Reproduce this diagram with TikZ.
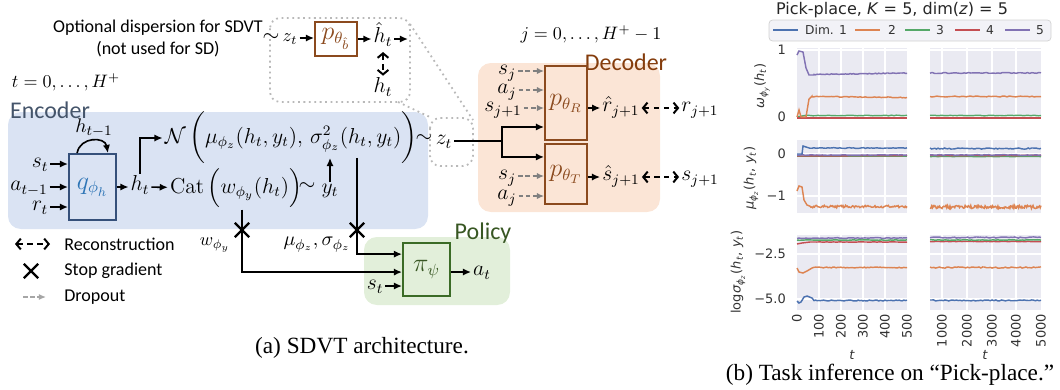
\documentclass[tikz,border=0pt]{standalone}
\usepackage[usenames,dvipsnames,svgnames,table]{xcolor}
\usepackage{fontspec}
\usepackage{amssymb}
\usepackage{amsmath}
\usepackage{tikz}
\usetikzlibrary{arrows.meta,shapes.misc}
\newfontfamily\carl{Carlito}
\newfontfamily\plotfont{DejaVu Sans}
\newfontfamily\capfont{Liberation Serif}
\definecolor{encfill}{HTML}{DAE3F3}
\definecolor{encline}{HTML}{35507A}
\definecolor{enctext}{HTML}{44546A}
\definecolor{qblue}{HTML}{2E75B6}
\definecolor{decfill}{HTML}{FBE5D6}
\definecolor{decline}{HTML}{8B4A1E}
\definecolor{dectext}{HTML}{843C0C}
\definecolor{polfill}{HTML}{E2EFDA}
\definecolor{polline}{HTML}{3B6B26}
\definecolor{poltext}{HTML}{385723}
\definecolor{axbg}{HTML}{EAEAF2}
\definecolor{cblu}{HTML}{4C72B0}
\definecolor{cora}{HTML}{DD8452}
\definecolor{cgre}{HTML}{55A868}
\definecolor{cred}{HTML}{C44E52}
\definecolor{cpur}{HTML}{8172B3}

\begin{document}
\begin{tikzpicture}[x=0.0195cm, y=-0.0195cm,
    arr/.style={-{Latex[length=4.5pt,width=4pt]}, line width=0.9pt},
    recon/.style={{Straight Barb[length=2.5pt,width=6pt]}-{Straight Barb[length=2.5pt,width=6pt]}, dash pattern=on 3pt off 2.5pt, line width=1.1pt},
    drop/.style={-{Latex[length=4pt,width=3.5pt]}, gray, dash pattern=on 2.5pt off 1.5pt, line width=0.8pt},
    blk/.style={draw, line width=1pt, inner sep=0pt, font=\fontsize{13.5}{16}\selectfont},
    lbl/.style={inner sep=1pt, text height=1.9ex, text depth=0.9ex},
    big/.style={font=\fontsize{12}{14}\selectfont},
    mth/.style={inner sep=1pt, font=\fontsize{12}{14}\selectfont},
    stopg/.style={cross out, draw, line width=1.2pt, minimum size=0.24cm, inner sep=0pt},
    region/.style={rounded corners=0.25cm},
    callout/.style={gray!55, dotted, line width=1pt, rounded corners=0.2cm},
    tick/.style={font=\plotfont\fontsize{7.2}{9}\selectfont, inner sep=1pt, text=black!80},
    curve/.style={line width=0.8pt}]
  \useasboundingbox (0,0) rectangle (1060,389);
  \pgfmathsetseed{7}

  % regions
  \fill[encfill, region] (8,112) rectangle (428,229);
  \fill[decfill, region] (478,63) rectangle (660,212);
  \fill[polfill, region] (364,237) rectangle (510,305);
  \draw[callout] (270,18) rectangle (410,102);
  \draw[callout] (430,118) rectangle (473,166);
  \draw[callout, rounded corners=0] (410,24) -- (473,120);
  \draw[callout, rounded corners=0] (398,102) -- (432,118);
  \node[text=enctext, font=\carl\fontsize{13.3}{15}\selectfont] (enct) at (50,110) {Encoder};
  \node[text=dectext, font=\carl\fontsize{13.3}{15}\selectfont] (dect) at (626,62) {Decoder};
  \node[text=poltext, font=\carl\fontsize{13.3}{15}\selectfont] (polt) at (483,233) {Policy};

  % encoder
  \node[blk, draw=encline, minimum width=0.92cm, minimum height=1.29cm, text=qblue] (q) at (92.5,187) {$q_{\phi_h}$};
  \node[lbl, big] (st) at (40,164) {$s_t$};
  \node[lbl, big] (at) at (29,187) {$a_{t-1}$};
  \node[lbl, big] (rt) at (40,207) {$r_t$};
  \foreach \n in {st,at,rt}
    \draw[arr] (\n) -- (\n -| q.west);
  \node[lbl, font=\fontsize{11}{13}\selectfont] (hprev) at (94,129) {$h_{t-1}$};
  \draw[arr] ([xshift=-0.3cm]q.north) to[out=80, in=100, looseness=1.4] ([xshift=0.3cm]q.north);
  \node[lbl, big] (ht) at (140,187) {$h_t$};
  \draw[arr] (q) -- (ht);
  \node[mth] (cat) at (236,188) {$\mathrm{Cat}\,\Bigl(w_{\phi_y}(h_t)\Bigr)$};
  \draw[arr] (ht) -- (cat);
  \node[lbl, big] (simy) at (307,187) {$\sim$};
  \node[mth] (yt) at (330,191) {$y_t$};
  \node[mth] (nrm) at (291,138) {$\mathcal{N}\,\biggl(\mu_{\phi_z}(h_t,y_t),\,\sigma^2_{\phi_z}(h_t,y_t)\biggr)$};
  \node[lbl, big] (simz) at (424,139) {$\sim$};
  \node[lbl, big] (zt) at (444,141) {$z_t$};
  \draw[arr] (ht.north) |- (nrm.west);
  \draw[arr] (yt.north) -- ([yshift=0.16cm]yt |- nrm.south);

  % stop gradients and policy
  \node[stopg] (xw) at (242,230) {};
  \node[stopg] (xs) at (357,230) {};
  \node[lbl] (wlab) at (215,242) {$w_{\phi_y}$};
  \node[lbl, font=\fontsize{11}{13}\selectfont] (mslab) at (317,242) {$\mu_{\phi_z},\sigma_{\phi_z}$};
  \node[blk, draw=polline, minimum width=0.92cm, minimum height=1.03cm, text=poltext] (pi) at (426.5,269.5) {$\pi_\psi$};
  \node[lbl, big] (stp) at (375,286) {$s_t$};
  \node[lbl, big] (atp) at (482,272) {$a_t$};
  \draw[arr] (cat.south -| xw) -- (xw.center) |- ([yshift=-0.05cm]pi.west);
  \draw[arr] ([yshift=0.16cm]nrm.south -| xs) -- (xs.center) |- ([yshift=0.3cm]pi.west);
  \draw[arr] (stp) -- (stp -| pi.west);
  \draw[arr] (pi.east |- atp) -- (atp);

  % optional dispersion
  \node[font=\carl] (opt1) at (158,28) {Optional dispersion for SDVT};
  \node[font=\carl] (opt2) at (158,49) {(not used for SD)};
  \node[lbl, big] (simb) at (271,38) {$\sim$};
  \node[lbl] (ztb) at (290,38) {$z_t$};
  \node[blk, draw=decline, minimum width=0.82cm, minimum height=0.66cm, text=decline] (pb) at (336,39) {$p_{\theta_{\hat b}}$};
  \node[lbl, big] (hhat) at (383,39) {$\hat h_t$};
  \node[mth] (hb) at (383,87) {$h_t$};
  \coordinate (hout) at (408,39);
  \draw[arr] (ztb) -- (ztb -| pb.west);
  \draw[arr] (pb.east |- hhat) -- (hhat);
  \draw[arr] (hhat) -- (hout);
  \draw[recon] (hhat.south) -- (hb.north);

  % decoder
  \node[lbl] (jr) at (591,36) {$j=0,\dots,H^+-1$};
  \node[lbl] (tr) at (66,84) {$t=0,\dots,H^+$};
  \node[blk, draw=decline, minimum width=0.82cm, minimum height=1.44cm, text=decline] (pR) at (566,103) {$p_{\theta_R}$};
  \node[blk, draw=decline, minimum width=0.82cm, minimum height=1.17cm, text=decline] (pT) at (566,174) {$p_{\theta_T}$};
  \node[lbl, big] (sja) at (507,71) {$s_j$};
  \node[lbl, big] (aja) at (507,90) {$a_j$};
  \node[lbl, big] (sjn) at (503,108) {$s_{j+1}$};
  \node[lbl, big] (sjb) at (507,176) {$s_j$};
  \node[lbl, big] (ajb) at (507,196) {$a_j$};
  \foreach \n in {sja,aja,sjn}
    \draw[drop] (\n) -- (\n -| pR.west);
  \foreach \n in {sjb,ajb}
    \draw[drop] (\n) -- (\n -| pT.west);
  \coordinate (br) at (502,141);
  \draw[line width=0.9pt] (zt) -- (br);
  \draw[arr] (br) |- ([yshift=0.27cm]pR.south west);
  \draw[arr] (br) |- ([yshift=-0.27cm]pT.north west);
  \node[lbl, big] (rhat) at (621,108) {$\hat r_{j+1}$};
  \node[lbl, big] (rj) at (700,108) {$r_{j+1}$};
  \node[lbl, big] (shat) at (621,177) {$\hat s_{j+1}$};
  \node[lbl, big] (sj) at (700,177) {$s_{j+1}$};
  \draw[arr] (pR.east |- rhat) -- (rhat);
  \draw[recon] (rhat) -- (rj);
  \draw[arr] (pT.east |- shat) -- (shat);
  \draw[recon] (shat) -- (sj);

  % legend
  \coordinate (lga) at (15,244);
  \coordinate (lgb) at (50,244);
  \draw[recon] (lga) -- (lgb);
  \node[anchor=west, font=\carl] (lgr) at (58,244) {Reconstruction};
  \node[stopg] (lgx) at (31,271) {};
  \node[anchor=west, font=\carl] (lgs) at (58,271) {Stop gradient};
  \coordinate (lgc) at (23,297);
  \coordinate (lgd) at (46,297);
  \draw[drop, gray!70] (lgc) -- (lgd);
  \node[anchor=west, font=\carl] (lgo) at (58,297) {Dropout};
  \node[font=\capfont\fontsize{12.9}{15}\selectfont] (capa) at (362,348) {(a) SDVT architecture.};

  % task inference plots
  \node[font=\plotfont\fontsize{8.9}{10}\selectfont, text=black!85] (ptitle) at (892,10) {Pick-place, \textit{K} = 5,  dim(\textit{z}) = 5};
  \draw[rounded corners=2pt, draw=gray!35, fill=axbg!60!white] (769,20) rectangle (1051,41);
  \foreach \c/\xa/\lab/\xl in {cblu/773/Dim. 1/826, cora/855/2/892, cgre/905/3/940, cred/955/4/990, cpur/1005/5/1040} {
    \draw[\c, line width=0.9pt] (\xa,30) -- ++(25,0);
    \node[tick, font=\plotfont\fontsize{6.8}{8}\selectfont] (leg-\c) at (\xl,30) {\lab};
  }
  \foreach \ya/\yb in {48/118, 140/213, 235/310} {
    \fill[axbg] (797,\ya) rectangle (907,\yb);
    \fill[axbg] (930,\ya) rectangle (1041,\yb);
    \foreach \gx in {819,841,863,885,942,967,992,1016}
      \draw[white, line width=0.7pt] (\gx,\ya) -- (\gx,\yb);
  }
  \foreach \gy in {50,117,154,196,254,299}
    \draw[white, line width=0.7pt] (797,\gy) -- (907,\gy) (930,\gy) -- (1041,\gy);

  % row 1
  \draw[cblu, curve] (797,117.5) -- (907,117.5);
  \draw[cgre, curve] (797,117) -- (805,115.5) -- plot[domain=805:907, samples=40] (\x,{115.5+0.3*rand});
  \draw[cred, curve] (797,118) -- (907,118);
  \draw[cora, curve] (797,117) -- (799,110) -- (801,117) -- (806,117) -- (809,99) -- (812,96) -- plot[domain=812:907, samples=60] (\x,{96.5+1*(\x-812)/95+0.4*rand});
  \draw[cpur, curve] (797,55) -- (799,51) -- (803,52) -- (806,68) -- (809,75) -- (814,75) -- plot[domain=814:907, samples=60] (\x,{74.5-1.5*(\x-814)/93+0.4*rand});
  \foreach \c/\yy/\amp in {cblu/117.5/0, cred/118/0, cgre/115.5/0.3, cora/96.5/0.5, cpur/73/0.5}
    \draw[\c, curve] plot[domain=930:1041, samples=50] (\x,{\yy+\amp*rand});
  % row 2
  \draw[cgre, curve] (797,156.5) -- (907,156.5);
  \draw[cred, curve] (797,156) -- (907,155.5);
  \draw[cpur, curve] plot[domain=797:907, samples=40] (\x,{155+0.3*rand});
  \draw[cblu, curve] (797,154) -- (802,154) -- (803,146) -- (806,147) -- plot[domain=810:907, samples=50] (\x,{148+0.4*rand});
  \draw[cora, curve] (797,191) -- (799,186) -- (802,187) -- (804,200) -- (807,205) -- plot[domain=810:907, samples=110] (\x,{206.5+1.2*rand});
  \foreach \c/\yy/\amp/\ns in {cgre/156.5/0.2/30, cred/155.5/0.2/30, cpur/155/0.4/50, cblu/148.5/0.6/70, cora/207/1.6/140}
    \draw[\c, curve] plot[domain=930:1041, samples=\ns] (\x,{\yy+\amp*rand});
  % row 3
  \draw[cred, curve] (797,244) -- (802,243) -- plot[domain=810:907, samples=30] (\x,{242+0.2*rand});
  \draw[cgre, curve] plot[domain=797:907, samples=40] (\x,{240+0.3*rand});
  \draw[cpur, curve] plot[domain=797:907, samples=50] (\x,{238+0.4*rand});
  \draw[cora, curve] (797,268) -- (799,272) -- (803,273) -- (807,271) -- (812,268) -- plot[domain=814:907, samples=60] (\x,{267.5+0.5*rand});
  \draw[cblu, curve] (797,301) -- (799,303) -- (801,302) -- (804,297) -- (807,296) -- (812,298) -- plot[domain=814:907, samples=60] (\x,{300.5+0.5*rand});
  \foreach \c/\yy/\amp in {cred/241.5/0.2, cgre/240/0.3, cpur/237.5/0.6, cora/267.5/0.6, cblu/300.5/0.6}
    \draw[\c, curve] plot[domain=930:1041, samples=60] (\x,{\yy+\amp*rand});

  % ticks and labels
  \foreach \n/\yy/\lab in {a/50/1, b/117/0, c/154/0, d/196/−1, e/254/−2.5, f/299/−5.0}
    \node[tick, anchor=east] (ty-\n) at (788,\yy) {\lab};
  \foreach \xx/\lab in {797/0, 819/100, 841/200, 863/300, 885/400, 907/500, 942/1000, 967/2000, 992/3000, 1016/4000, 1041/5000}
    \node[tick, rotate=90, anchor=east] (tx-\xx) at (\xx,312) {\lab};
  \node[tick] (xl1) at (852,355) {\textit{t}};
  \node[tick] (xl2) at (985,355) {\textit{t}};
  \node[tick, rotate=90] (yl1) at (762,86) {\textit{ω}\textsubscript{\textit{ϕ}\textsubscript{\textit{y}}}(\textit{h}\textsubscript{\textit{t}})};
  \node[tick, rotate=90] (yl2) at (751,178) {\textit{μ}\textsubscript{\textit{ϕ}\textsubscript{\textit{z}}}(\textit{h}\textsubscript{\textit{t}}, \textit{y}\textsubscript{\textit{t}})};
  \node[tick, rotate=90] (yl3) at (738,272) {log\textit{σ}\textsubscript{\textit{ϕ}\textsubscript{\textit{z}}}(\textit{h}\textsubscript{\textit{t}}, \textit{y}\textsubscript{\textit{t}})};
  \node[font=\capfont\fontsize{12.9}{15}\selectfont] (capb) at (890,375) {(b) Task inference on “Pick-place.”};
\end{tikzpicture}
\end{document}
